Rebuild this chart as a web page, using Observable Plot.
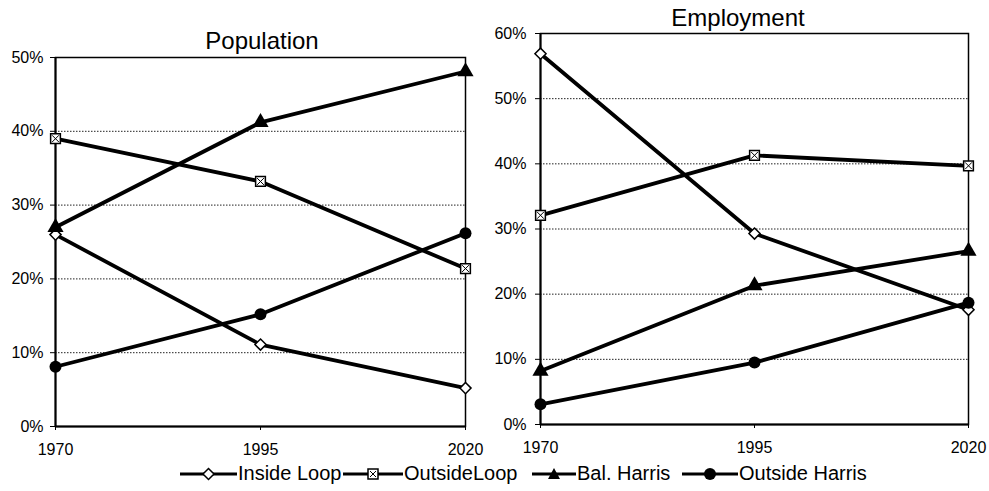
<!DOCTYPE html>
<html>
<head>
<meta charset="utf-8">
<script src="https://cdn.jsdelivr.net/npm/d3@7"></script>
<script src="https://cdn.jsdelivr.net/npm/@observablehq/plot@0.6"></script>
<style>
  html, body { margin: 0; padding: 0; background: #fff; }
  #wrap { position: relative; width: 989px; height: 491px; overflow: hidden; font-family: "Liberation Sans", Arial, sans-serif; color: #000; }
  .panel { position: absolute; top: 0; }
  .panel svg { overflow: visible; }
  .title { position: absolute; font-size: 24px; line-height: 1; white-space: nowrap; transform: translateX(-50%); }
  #legend { position: absolute; left: 0; top: 462px; width: 989px; height: 24px; font-size: 20px; white-space: nowrap; }
  #legend .item { position: absolute; top: 0; display: flex; align-items: center; }
  #legend svg { display: block; }
</style>
</head>
<body>
<div id="wrap">
  <div id="left" class="panel" style="left:0px"></div>
  <div id="right" class="panel" style="left:480px"></div>
  <div class="title" style="left:262px; top:29px">Population</div>
  <div class="title" style="left:738px; top:6px">Employment</div>
  <div id="legend"></div>
</div>
<script>
// ---- data (percent) ----
const years = [1970, 1995, 2020];
const seriesNames = ["Inside Loop", "OutsideLoop", "Bal. Harris", "Outside Harris"];
const popInsideLoop    = [26.0, 11.1, 5.2];
const popOutsideLoop   = [39.0, 33.2, 21.4];
const popBalHarris     = [27.0, 41.2, 48.1];
const popOutsideHarris = [8.1, 15.2, 26.2];
const empInsideLoop    = [56.9, 29.3, 17.6];
const empOutsideLoop   = [32.1, 41.3, 39.7];
const empBalHarris     = [8.2, 21.3, 26.6];
const empOutsideHarris = [3.1, 9.5, 18.7];
const popTicks = [0, 10, 20, 30, 40, 50];
const empTicks = [0, 10, 20, 30, 40, 50, 60];

function tidy(arrs) {
  const rows = [];
  seriesNames.forEach((s, i) => years.forEach((y, j) => rows.push({series: s, year: y, value: arrs[i][j]})));
  return rows;
}
const popRows = tidy([popInsideLoop, popOutsideLoop, popBalHarris, popOutsideHarris]);
const empRows = tidy([empInsideLoop, empOutsideLoop, empBalHarris, empOutsideHarris]);

const font = "'Liberation Sans', Arial, sans-serif";

function panel(rows, ticks, o) {
  const by = s => rows.filter(d => d.series === s);
  return Plot.plot({
    width: o.width, height: 460,
    marginLeft: o.ml, marginRight: o.mr, marginTop: o.mt, marginBottom: o.mb,
    style: {fontFamily: font, fontSize: "16px", background: "transparent", color: "#000", overflow: "visible"},
    x: {domain: [1970, 2020], label: null},
    y: {domain: [0, d3.max(ticks)], label: null},
    marks: [
      Plot.gridY(ticks, {stroke: "#222", strokeOpacity: 1, strokeWidth: 1, strokeDasharray: "1.5,1.5"}),
      Plot.frame({stroke: "#000", strokeWidth: 1.5}),
      Plot.ruleX([1970], {stroke: "#000", strokeWidth: 2}),
      Plot.ruleY([0], {stroke: "#000", strokeWidth: 2}),
      Plot.axisX({ticks: years, tickFormat: d => String(d), tickSize: 4, tickPadding: 13, stroke: "#000", fontSize: 16, label: null}),
      Plot.axisY({ticks: ticks, tickFormat: d => d + "%", tickSize: 5, tickPadding: o.tp, stroke: "#000", fontSize: 16, label: null}),
      Plot.line(rows, {x: "year", y: "value", z: "series", stroke: "#000", strokeWidth: 3.8, strokeLinejoin: "round"}),
      Plot.dot(by("Inside Loop"), {x: "year", y: "value", symbol: "diamond2", r: 5, fill: "#fff", stroke: "#000", strokeWidth: 1.5}),
      Plot.dot(by("OutsideLoop"), {x: "year", y: "value", symbol: "square", r: 5.5, fill: "#fff", stroke: "#000", strokeWidth: 1.5}),
      Plot.dot(by("OutsideLoop"), {x: "year", y: "value", symbol: "times", r: 3.2, stroke: "#000", strokeWidth: 1}),
      Plot.dot(by("Bal. Harris"), {x: "year", y: "value", symbol: "triangle", r: 6, fill: "#000"}),
      Plot.dot(by("Outside Harris"), {x: "year", y: "value", symbol: "circle", r: 6, fill: "#000"})
    ]
  });
}

document.getElementById("left").append(panel(popRows, popTicks, {width: 480, ml: 55, mr: 15, mt: 57, mb: 34, tp: 7}));
document.getElementById("right").append(panel(empRows, empTicks, {width: 509, ml: 60, mr: 21, mt: 33, mb: 36, tp: 9}));

// ---- legend ----
const legend = d3.select("#legend");
const itemLeft = [180, 343, 532, 682];
const swatchW = [57, 60, 44, 56];
seriesNames.forEach((s, i) => {
  const item = legend.append("div").attr("class", "item").style("left", itemLeft[i] + "px");
  const w = swatchW[i];
  const svg = item.append("svg").attr("width", w).attr("height", 22);
  svg.append("line").attr("x1", 0).attr("x2", w).attr("y1", 11).attr("y2", 11)
    .attr("stroke", "#000").attr("stroke-width", 3);
  const cx = w / 2, cy = 11;
  if (i === 0) {
    svg.append("path").attr("d", `M${cx},${cy-5.5}L${cx+5.5},${cy}L${cx},${cy+5.5}L${cx-5.5},${cy}Z`)
      .attr("fill", "#fff").attr("stroke", "#000").attr("stroke-width", 1.5);
  } else if (i === 1) {
    svg.append("rect").attr("x", cx-5).attr("y", cy-5).attr("width", 10).attr("height", 10)
      .attr("fill", "#fff").attr("stroke", "#000").attr("stroke-width", 1.5);
    svg.append("path").attr("d", `M${cx-3},${cy-3}L${cx+3},${cy+3}M${cx+3},${cy-3}L${cx-3},${cy+3}`)
      .attr("stroke", "#000").attr("stroke-width", 1);
  } else if (i === 2) {
    svg.append("path").attr("d", `M${cx},${cy-6}L${cx+6},${cy+5}L${cx-6},${cy+5}Z`).attr("fill", "#000");
  } else {
    svg.append("circle").attr("cx", cx).attr("cy", cy).attr("r", 6).attr("fill", "#000");
  }
  item.append("span").text(s).style("margin-left", "1px");
});
</script>
</body>
</html>
